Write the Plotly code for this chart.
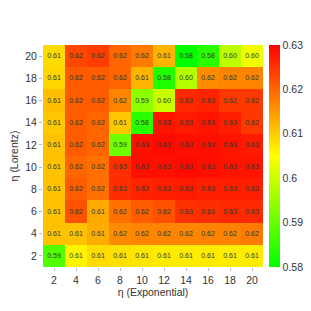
import plotly.graph_objects as go

x_vals = [2, 4, 6, 8, 10, 12, 14, 16, 18, 20]
y_vals = [2, 4, 6, 8, 10, 12, 14, 16, 18, 20]

# rows from y=2 (bottom) to y=20 (top)
row_2 = [0.5878, 0.606, 0.6085, 0.608, 0.6075, 0.607, 0.607, 0.607, 0.6068, 0.6068]
row_4 = [0.611, 0.611, 0.613, 0.6163, 0.617, 0.617, 0.617, 0.6172, 0.6172, 0.618]
row_6 = [0.611, 0.622, 0.6133, 0.619, 0.621, 0.622, 0.6252, 0.6255, 0.626, 0.626]
row_8 = [0.611, 0.621, 0.619, 0.6255, 0.6266, 0.627, 0.6275, 0.627, 0.627, 0.627]
row_10 = [0.611, 0.620, 0.619, 0.6255, 0.6285, 0.6285, 0.629, 0.6285, 0.628, 0.628]
row_12 = [0.611, 0.621, 0.620, 0.591, 0.6285, 0.629, 0.6285, 0.6285, 0.628, 0.6275]
row_14 = [0.6104, 0.621, 0.620, 0.6104, 0.584, 0.628, 0.6275, 0.628, 0.627, 0.6245]
row_16 = [0.6114, 0.621, 0.621, 0.617, 0.5937, 0.5996, 0.626, 0.6266, 0.6245, 0.6245]
row_18 = [0.609, 0.6212, 0.621, 0.620, 0.6124, 0.583, 0.5976, 0.6163, 0.617, 0.617]
row_20 = [0.6085, 0.623, 0.624, 0.620, 0.618, 0.6124, 0.580, 0.584, 0.5986, 0.6035]

z = [row_2, row_4, row_6, row_8, row_10, row_12, row_14, row_16, row_18, row_20]

cb_ticks = [0.58, 0.59, 0.6, 0.61, 0.62, 0.63]
cb_labels = ["0.58", "0.59", "0.6", "0.61", "0.62", "0.63"]

colorscale = [[0.0, "rgb(0,255,0)"], [0.5, "rgb(255,255,0)"], [1.0, "rgb(255,0,0)"]]

FONT = "Liberation Sans, Arial, sans-serif"

fig = go.Figure(go.Heatmap(
    x=x_vals, y=y_vals, z=z,
    zmin=0.58, zmax=0.63,
    colorscale=colorscale,
    texttemplate="%{z:.2f}",
    textfont=dict(size=7, color="#333333", family=FONT),
    xgap=0, ygap=0,
    colorbar=dict(
        x=1.027, xanchor="left", xpad=0, ypad=0,
        y=0.5, yanchor="middle", len=1.0, lenmode="fraction",
        thickness=11, outlinewidth=0,
        tickmode="array", tickvals=cb_ticks, ticktext=cb_labels,
        ticks="", tickfont=dict(size=10.5, color="#333333", family=FONT),
    ),
))

fig.update_layout(
    width=311, height=311,
    margin=dict(l=35, r=56, t=37, b=52, autoexpand=False),
    paper_bgcolor="white", plot_bgcolor="white",
    font=dict(family=FONT, color="#333333", size=10.5),
    xaxis=dict(
        tickmode="array", tickvals=x_vals, ticks="outside", ticklen=3, tickcolor="#bbbbbb",
        showgrid=False, zeroline=False, showline=False, automargin=False,
        title=dict(text="η (Exponential)", font=dict(size=10.5), standoff=3),
        tickfont=dict(size=10.5),
    ),
    yaxis=dict(
        tickmode="array", tickvals=y_vals, ticks="outside", ticklen=3, tickcolor="#bbbbbb",
        showgrid=False, zeroline=False, showline=False, automargin=False,
        title=dict(text="η (Lorentz)", font=dict(size=10.5), standoff=8),
        tickfont=dict(size=10.5),
    ),
)

fig.write_html("out.html")
